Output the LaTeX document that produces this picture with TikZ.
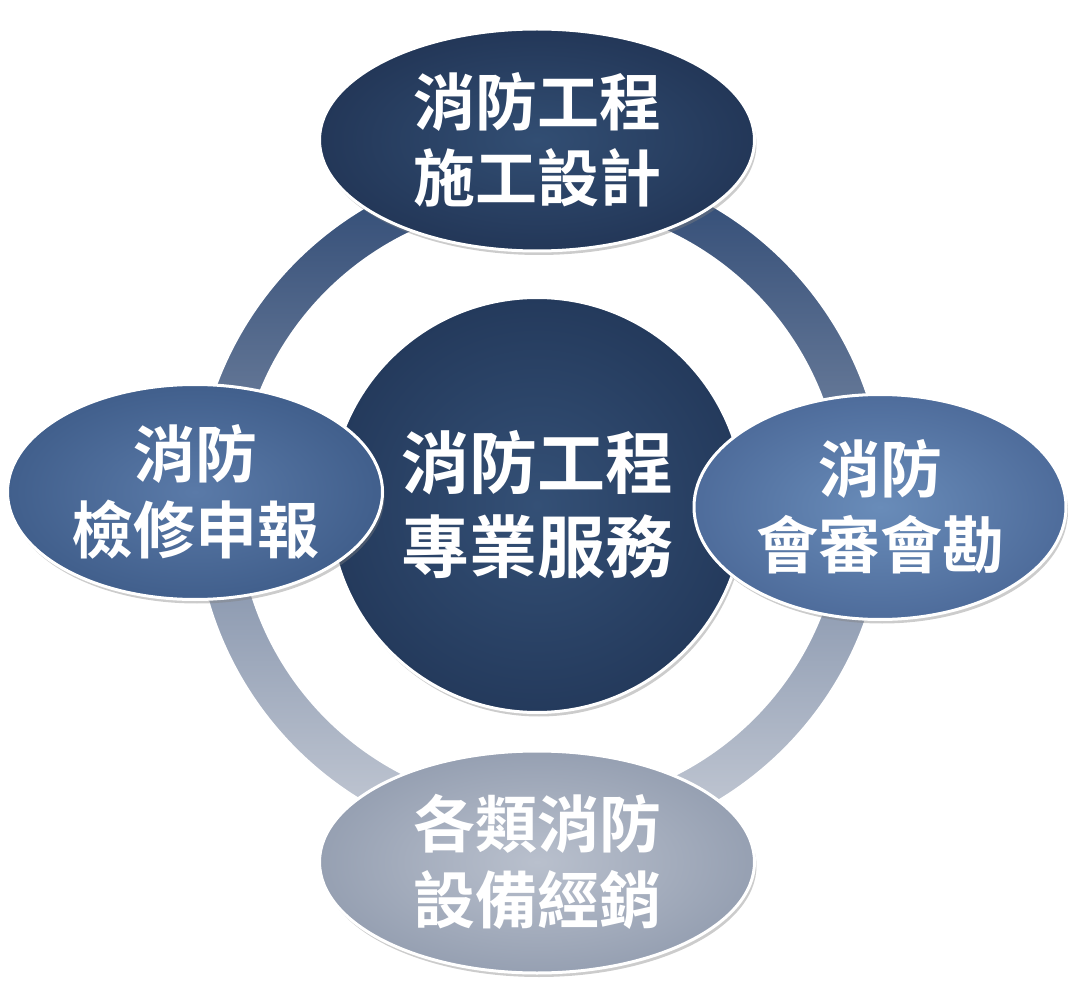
\documentclass[tikz,border=0pt]{standalone}
\usepackage{fontspec}
\newfontfamily\cjk{Noto Sans CJK TC}[BoldFont={* Bold}]
\usetikzlibrary{shapes.geometric,shadows}
\tikzset{
  blob/.style={ellipse, draw=white, line width=3pt, minimum width=#1, text=white,
    font=\cjk\bfseries\fontsize{62}{76}\selectfont, align=center, inner sep=0pt,
    drop shadow={shadow xshift=2pt, shadow yshift=-4pt, opacity=0.4}},
}
\begin{document}
\begin{tikzpicture}[x=1pt,y=-1pt]
\useasboundingbox (0,0) rectangle (1077,1008);
% ring
\shade[even odd rule, shading=axis, shading angle=-135, top color={rgb,255:red,45;green,72;blue,115}, bottom color={rgb,255:red,200;green,205;blue,215}]
  (540,505) circle (345) (540,505) circle (302);
\draw[white, line width=1.5pt] (540,505) circle (345) (540,505) circle (302);
% nodes
\node[circle, draw=white, line width=3pt, minimum size=415pt, inner sep=0pt, text=white,
  font=\cjk\bfseries\fontsize{68}{84}\selectfont, align=center,
  inner color={rgb,255:red,52;green,80;blue,118}, outer color={rgb,255:red,36;green,58;blue,92},
  drop shadow={shadow xshift=2pt, shadow yshift=-4pt, opacity=0.4}]
  (c) at (537,505) {消防工程\\專業服務};
\node[blob=375pt, minimum height=215pt, inner color={rgb,255:red,90;green,122;blue,168}, outer color={rgb,255:red,65;green,95;blue,140}]
  (l) at (195,492) {消防\\檢修申報};
\node[blob=372pt, minimum height=225pt, inner color={rgb,255:red,105;green,140;blue,185}, outer color={rgb,255:red,78;green,108;blue,155}]
  (r) at (880,507) {消防\\會審會勘};
\node[blob=435pt, minimum height=222pt, inner color={rgb,255:red,185;green,192;blue,205}, outer color={rgb,255:red,150;green,160;blue,178}]
  (b) at (537,862) {各類消防\\設備經銷};
\node[blob=435pt, minimum height=222pt, inner color={rgb,255:red,50;green,78;blue,115}, outer color={rgb,255:red,35;green,55;blue,88}]
  (t) at (537,140) {消防工程\\施工設計};
\end{tikzpicture}
\end{document}
